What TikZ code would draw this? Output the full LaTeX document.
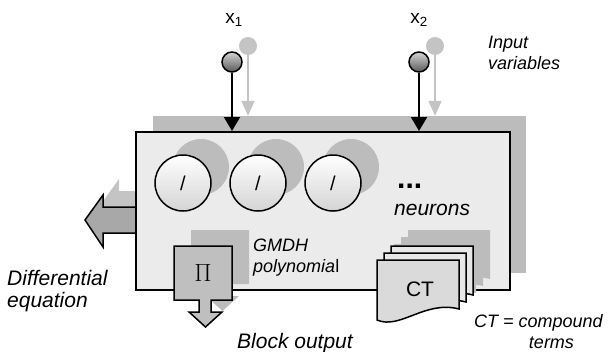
\documentclass[tikz,border=0pt]{standalone}
\usepackage{fontspec}
\setsansfont{Liberation Sans}
\usetikzlibrary{arrows.meta,positioning}
\definecolor{gmInk}{HTML}{000000}
\definecolor{gmPanel}{HTML}{EBEBEB}
\definecolor{gmShade}{HTML}{BCBCBC}
\definecolor{gmGhost}{HTML}{C4C4C4}
\definecolor{gmCore}{HTML}{BFBFBF}
\definecolor{gmOut}{HTML}{A8A8A8}
\definecolor{gmSheet}{HTML}{DADADA}
\definecolor{gmSheetBack}{HTML}{E7E7E7}
\definecolor{gmBase}{HTML}{D4D4D4}
\tikzset{
  every picture/.style={font=\sffamily, text=gmInk},
  gm block/.style={draw=gmInk, line width=2pt, fill=gmPanel, inner sep=0pt,
    minimum width=374pt, minimum height=158pt},
  gm shade/.style={fill=gmShade, draw=none, inner sep=0pt,
    minimum width=373pt, minimum height=157pt},
  gm neuron/.style={circle, draw=gmInk, line width=1.5pt, top color=white,
    bottom color=gmBase, minimum size=56pt, inner sep=0pt,
    font=\sffamily\fontsize{20}{24}\selectfont},
  gm ghost/.style={circle, fill=gmShade, minimum size=56pt, inner sep=0pt},
  gm input/.style={circle, draw=gmInk, line width=1.5pt, top color=gmBase,
    bottom color=black!65, minimum size=20pt, inner sep=0pt},
  gm input ghost/.style={circle, fill=gmGhost, minimum size=18pt, inner sep=0pt},
  gm arrow/.style={-{Triangle[length=14pt,width=16pt]}, draw=gmInk, line width=2pt},
  gm ghost arrow/.style={-{Triangle[length=15pt,width=13pt]}, draw=gmGhost,
    line width=1.5pt},
  gm outline/.style={draw=gmInk, line width=1.5pt, line join=miter},
  gm var/.style={font=\sffamily\fontsize{19}{22}\selectfont, inner sep=0pt},
  gm label/.style={font=\sffamily\itshape\fontsize{18}{21}\selectfont,
    inner sep=0pt, align=left},
  gm big label/.style={font=\sffamily\itshape\fontsize{21}{22.5}\selectfont,
    inner sep=0pt, align=left}
}
\begin{document}
\begin{tikzpicture}[x=1pt,y=-1pt]
  \useasboundingbox (0,0) rectangle (609,351);
  % block and its shadow
  \node[gm shade] (blockshade) at (339.5,194.5) {};
  \draw[fill=gmGhost,draw=none,shift={(16,-16)}] (85,220) -- (103,195) -- (103,207)
    -- (140,207) -- (140,233) -- (103,233) -- (103,247) -- cycle;
  \draw[gm outline,fill=gmOut] (85,220) -- (103,195) -- (103,207) -- (140,207)
    -- (140,233) -- (103,233) -- (103,247) -- cycle;
  \node[gm block] (block) at (323,211) {};

  % inputs
  \node[gm input ghost] (in1s) at (248,46) {};
  \node[gm input ghost] (in2s) at (435,46) {};
  \draw[gm ghost arrow] (in1s) -- (in1s |- blockshade.north);
  \draw[gm ghost arrow] (in2s) -- (in2s |- blockshade.north);
  \node[gm input] (in1) at (232,62) {};
  \node[gm input] (in2) at (419,62) {};
  \draw[gm arrow] (in1) -- (in1 |- block.north);
  \draw[gm arrow] (in2) -- (in2 |- block.north);
  \node[gm var,anchor=base] (x1) at (234,23) {x\textsubscript{1}};
  \node[gm var,anchor=base] (x2) at (419,23) {x\textsubscript{2}};
  \node[gm label,anchor=north west] (inlab) at (488,36) {Input\\variables};

  % neurons
  \foreach \i/\xx in {1/183,2/258,3/333}
    \node[gm ghost] (g\i) at (\xx+18,167) {};
  \foreach \i/\xx in {1/183,2/258,3/333}
    \node[gm neuron] (n\i) at (\xx,183) {/};
  \node[font=\sffamily\bfseries\fontsize{30}{30}\selectfont,inner sep=0pt,
    anchor=base west] (dots) at (397,188) {...};
  \node[gm big label,anchor=base west] (nlab) at (394,215) {neurons};

  % GMDH polynomial
  \draw[fill=gmShade,draw=none,shift={(17,-16)}] (174,246) -- (232,246) -- (232,300)
    -- (211,300) -- (211,312) -- (222,312) -- (205.5,327) -- (189,312) -- (199,312)
    -- (199,300) -- (174,300) -- cycle;
  \draw[gm outline,fill=gmCore] (174,246) -- (232,246) -- (232,300) -- (211,300)
    -- (211,312) -- (222,312) -- (205.5,327) -- (189,312) -- (199,312) -- (199,300)
    -- (174,300) -- cycle;
  \node[inner sep=0pt] (pi) at (203,273) {\fontsize{24}{24}\selectfont$\Pi$};
  \node[gm label,anchor=north west] (plab) at (253,239)
    {GMDH\\polynomia{\upshape l}};

  % compound terms
  \foreach \dx in {14,7,0}
    \draw[fill=gmShade,draw=none,shift={(377+\dx+17,260-\dx-16)}] (0,0) -- (82,0)
      -- (82,49) .. controls (48,40) and (23,70) .. (0,60) -- cycle;
  \foreach \dx/\col in {14/gmSheetBack,7/gmSheetBack,0/gmSheet}
    \draw[gm outline,fill=\col,shift={(377+\dx,260-\dx)}] (0,0) -- (82,0)
      -- (82,49) .. controls (48,40) and (23,70) .. (0,60) -- cycle;
  \node[font=\sffamily\fontsize{21}{21}\selectfont,inner sep=0pt] (ct) at (420,289) {CT};
  \node[gm label,anchor=north west,align=center] (ctlab) at (474,314)
    {CT = compound\\\hspace*{26pt}terms};

  % outputs
  \node[gm big label,anchor=north west] (dlab) at (7,270) {Differential\\equation};
  \node[gm big label,anchor=base west] (blab) at (237,348) {Block output};
\end{tikzpicture}
\end{document}
